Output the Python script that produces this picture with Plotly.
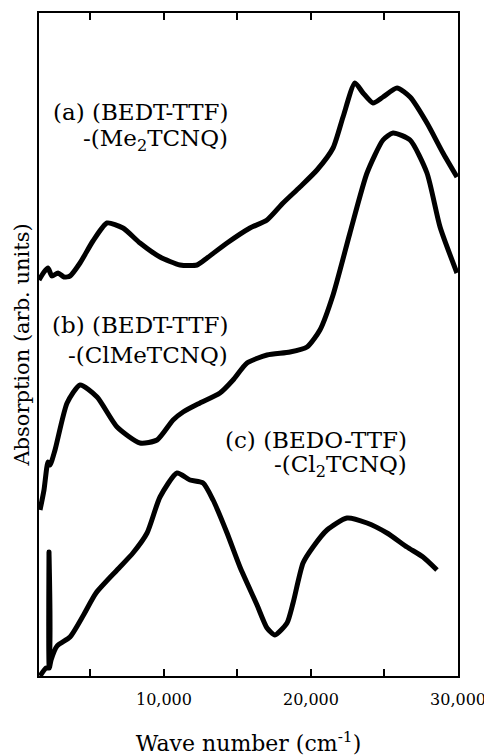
import plotly.graph_objects as go

# Wave numbers (cm^-1) and absorption (arb. units)
wn_a = [1500, 1840, 2110, 2380, 2790, 3200, 3610, 4290, 5170, 6130, 7210, 8370, 9730, 11090, 12250, 12930, 14290,
        15850, 17010, 18100, 19250, 20410, 21500, 22180, 22990, 23540, 24220, 24900, 25850, 26740, 27890, 28980, 29930]
ab_a = [396, 404, 408, 400, 403, 399, 400, 413, 435, 453, 448, 433, 419, 411, 411, 418, 433, 448, 456, 473, 489, 506,
        528, 559, 593, 583, 573, 579, 588, 579, 553, 523, 499]

wn_b = [1570, 1840, 2110, 2250, 2590, 3410, 4290, 5450, 6810, 8370, 9530, 10620, 11300, 12450, 13810, 14700, 15650,
        17010, 18570, 19730, 20610, 21500, 22650, 23810, 24900, 25580, 26740, 27890, 28780, 29930]
ab_b = [166, 186, 214, 211, 226, 273, 291, 279, 249, 233, 236, 256, 264, 273, 283, 296, 313, 321, 324, 329, 346, 381,
        443, 503, 536, 543, 536, 503, 449, 403]

wn_c = [1570, 1980, 2160, 2180, 2200, 2320, 2730, 3610, 4490, 5380, 6810, 7890, 8850, 9730, 10890, 11770, 12660,
        13340, 14290, 15170, 16330, 17010, 17550, 18370, 18780, 19460, 20140, 21090, 22450, 23810, 25170, 26530,
        27620, 28570]
ab_c = [0, 8, 8, 124, 8, 16, 30, 39, 60, 83, 106, 123, 143, 179, 203, 196, 193, 176, 143, 109, 71, 48, 41, 53, 73,
        113, 129, 146, 158, 153, 143, 129, 119, 106]

x_ticks = [5000, 10000, 15000, 20000, 25000, 30000]
x_tick_text = ["", "10,000", "", "20,000", "", "30,000"]
labels = [
    ("(a) (BEDT-TTF)", 14500, 564),
    ("-(Me<sub>2</sub>TCNQ)", 14500, 536),
    ("(b) (BEDT-TTF)", 14500, 351),
    ("-(ClMeTCNQ)", 14500, 321),
    ("(c) (BEDO-TTF)", 26700, 236),
    ("-(Cl<sub>2</sub>TCNQ)", 26700, 210),
]

FONT = "DejaVu Serif"
fig = go.Figure()
for wn, ab in [(wn_a, ab_a), (wn_b, ab_b), (wn_c, ab_c)]:
    fig.add_trace(go.Scatter(x=wn, y=ab, mode="lines", line=dict(color="black", width=5, shape="spline", smoothing=0.6),
                             hoverinfo="skip", showlegend=False))

for text, x, y in labels:
    fig.add_annotation(text=text, x=x, y=y, xref="x", yref="y", showarrow=False,
                       xanchor="right", yanchor="middle", align="right",
                       font=dict(family=FONT, size=23, color="black"))

# page body adds an 8px offset; size/margins compensate so the frame sits at 39..458 x 13..676
fig.update_layout(
    width=484, height=748,
    margin=dict(l=31, r=34, t=5, b=80),
    paper_bgcolor="white", plot_bgcolor="white",
    font=dict(family=FONT, color="black"),
)
fig.update_xaxes(
    range=[1500, 30000], tickmode="array", tickvals=x_ticks, ticktext=x_tick_text,
    ticks="inside", ticklen=7, tickwidth=2, tickcolor="black", ticklabelstandoff=8,
    showline=True, linewidth=2, linecolor="black", mirror="ticks",
    showgrid=False, zeroline=False, automargin=False,
    tickfont=dict(family=FONT, size=16, color="black"),
    title=dict(text="Wave number (cm<sup>-1</sup>)", font=dict(family=FONT, size=22, color="black"), standoff=28),
)
fig.update_yaxes(
    range=[0, 663], showticklabels=False, ticks="",
    showline=True, linewidth=2, linecolor="black", mirror=True,
    showgrid=False, zeroline=False, automargin=False,
    title=dict(text="Absorption (arb. units)", font=dict(family=FONT, size=21, color="black"), standoff=2),
)

fig.write_html("out.html")
